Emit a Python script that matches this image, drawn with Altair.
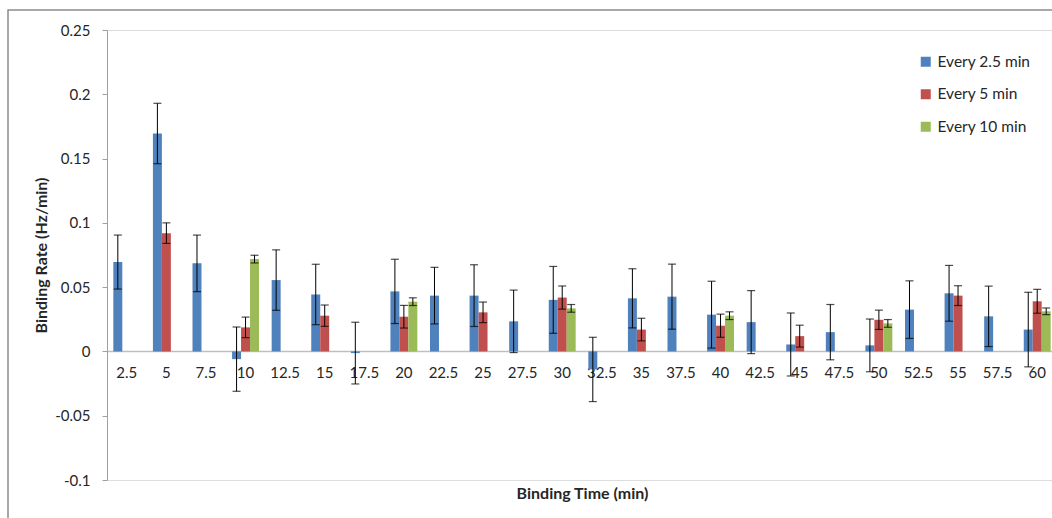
import altair as alt
import pandas as pd

categories = ["2.5", "5", "7.5", "10", "12.5", "15", "17.5", "20", "22.5", "25", "27.5", "30",
              "32.5", "35", "37.5", "40", "42.5", "45", "47.5", "50", "52.5", "55", "57.5", "60"]
series_names = ["Every 2.5 min", "Every 5 min", "Every 10 min"]
colors = ["#4F81BD", "#C0504D", "#9BBB59"]

every_2_5 = [0.0695, 0.1695, 0.0685, -0.006, 0.0555, 0.0443, -0.0013, 0.0467, 0.0434, 0.0434, 0.0234, 0.0401,
             -0.014, 0.0413, 0.0426, 0.0286, 0.0228, 0.0054, 0.015, 0.0047, 0.0325, 0.0452, 0.0273, 0.017]
every_2_5_err = [0.021, 0.0235, 0.022, 0.025, 0.0235, 0.0235, 0.024, 0.025, 0.022, 0.024, 0.0243, 0.026,
                 0.025, 0.023, 0.0253, 0.026, 0.0245, 0.0245, 0.0215, 0.0205, 0.0224, 0.0217, 0.0235, 0.029]
every_5 = [None, 0.092, None, 0.0187, None, 0.0278, None, 0.027, None, 0.0304, None, 0.0419,
           None, 0.017, None, 0.020, None, 0.0119, None, 0.0246, None, 0.0434, None, 0.039]
every_5_err = [None, 0.008, None, 0.008, None, 0.0083, None, 0.0088, None, 0.008, None, 0.009,
               None, 0.0088, None, 0.009, None, 0.0085, None, 0.0075, None, 0.0077, None, 0.0093]
every_10 = [None, None, None, 0.0718, None, None, None, 0.0387, None, None, None, 0.0335,
            None, None, None, 0.0278, None, None, None, 0.0218, None, None, None, 0.0312]
every_10_err = [None, None, None, 0.003, None, None, None, 0.003, None, None, None, 0.003,
                None, None, None, 0.003, None, None, None, 0.003, None, None, None, 0.0026]

y_ticks = [-0.1, -0.05, 0, 0.05, 0.1, 0.15, 0.2, 0.25]

rows = []
for name, vals, errs in zip(series_names, [every_2_5, every_5, every_10], [every_2_5_err, every_5_err, every_10_err]):
    for c, v, e in zip(categories, vals, errs):
        if v is None:
            continue
        rows.append({"cat": c, "series": name, "value": v, "lo": v - e, "hi": v + e})
df = pd.DataFrame(rows)

FONT = "Lato"
TXT = "#262626"

x_enc = alt.X(
    "cat:N", sort=categories,
    scale=alt.Scale(domain=categories, paddingInner=0.32, paddingOuter=0.16, range=[0, 950]),
    axis=alt.Axis(offset=-129, ticks=False, tickSize=0, domainColor="#BFBFBF", domainWidth=1.5,
                  labelPadding=14, labelFontSize=15, labelFont=FONT, labelColor=TXT, labelAngle=0,
                  labelOverlap=False, title="Binding Time (min)", titleFont=FONT, titleFontSize=16,
                  titleFontWeight="bold", titleColor=TXT, titleY=142, titleBaseline="middle"),
)
xoff = alt.XOffset("series:N", sort=series_names,
                   scale=alt.Scale(domain=series_names, paddingInner=0, paddingOuter=0))
y_scale = alt.Scale(domain=[-0.1, 0.25], nice=False, zero=False)

bars = alt.Chart(df).mark_bar().encode(
    x=x_enc,
    xOffset=xoff,
    y=alt.Y("value:Q", scale=y_scale,
            axis=alt.Axis(values=y_ticks, grid=False, tickSize=5, tickColor="#A0A0A0", domainColor="#A0A0A0",
                          labelPadding=12, labelFontSize=15, labelFont=FONT, labelColor=TXT,
                          labelExpr="datum.value < 0 ? '-' + format(-datum.value, '~g') : format(datum.value, '~g')",
                          title="Binding Rate (Hz/min)", titleFont=FONT, titleFontSize=16, titleFontWeight="bold",
                          titleColor=TXT, titleX=-66, titleY=225, titleBaseline="middle", titleAlign="center")),
    color=alt.Color("series:N", sort=series_names,
                    scale=alt.Scale(domain=series_names, range=colors),
                    legend=alt.Legend(orient="none", legendX=811, legendY=24, title=None,
                                      symbolType="square", symbolSize=100, symbolStrokeWidth=0,
                                      labelFont=FONT, labelFontSize=15.5, labelColor=TXT,
                                      labelOffset=4, rowPadding=15.5)),
)

err_rule = alt.Chart(df).mark_rule(color="black", strokeWidth=1).encode(
    x=alt.X("cat:N", sort=categories), xOffset=xoff,
    y=alt.Y("lo:Q", scale=y_scale), y2="hi:Q",
)
cap_lo = alt.Chart(df).mark_tick(color="black", orient="horizontal", size=8, thickness=1.2).encode(
    x=alt.X("cat:N", sort=categories), xOffset=xoff, y=alt.Y("lo:Q", scale=y_scale),
)
cap_hi = alt.Chart(df).mark_tick(color="black", orient="horizontal", size=8, thickness=1.2).encode(
    x=alt.X("cat:N", sort=categories), xOffset=xoff, y=alt.Y("hi:Q", scale=y_scale),
)

frame = alt.Chart(pd.DataFrame({"a": [0]})).mark_rect(
    fill="transparent", stroke="#8C8C8C", strokeWidth=1.5
).encode(x=alt.value(-99), x2=alt.value(1200), y=alt.value(-20), y2=alt.value(700))

chart = alt.layer(frame, bars, err_rule, cap_lo, cap_hi).properties(
    width=945, height=450,
    autosize=alt.AutoSizeParams(type="none"),
    padding={"left": 107, "top": 30, "right": 0, "bottom": 38},
).configure_view(stroke="transparent").configure(background="white")

chart.save("out.html", embed_options={"renderer": "svg", "actions": False})
